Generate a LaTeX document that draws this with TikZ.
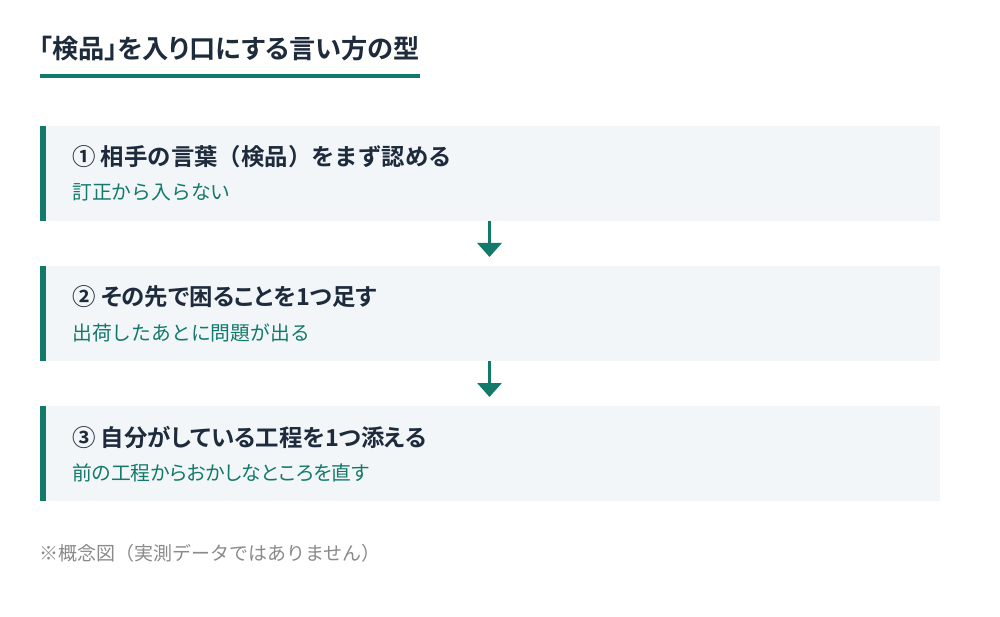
\documentclass[tikz,border=0pt]{standalone}
\usepackage{fontspec}
\setmainfont{Noto Sans CJK JP}[BoldFont={* Bold}]
\usetikzlibrary{arrows.meta}
\definecolor{teal}{HTML}{13796B}
\definecolor{navy}{HTML}{1E2B3C}
\definecolor{boxbg}{HTML}{F2F6F9}
\definecolor{note}{HTML}{8A8A8A}
\newcommand{\prop}{\addfontfeature{RawFeature=+palt}}
\tikzset{
  stepbox/.style={rectangle, fill=boxbg, draw=none, minimum width=900pt, minimum height=95pt, anchor=north west, inner sep=0pt},
  bar/.style={fill=teal, draw=none},
  head/.style={anchor=west, inner sep=0pt, text=navy, font=\fontsize{23.4pt}{27pt}\selectfont\bfseries},
  sub/.style={anchor=west, inner sep=0pt, text=teal, font=\fontsize{19.8pt}{23pt}\selectfont},
  arr/.style={draw=teal, line width=3pt, -{Triangle[width=24pt,length=14pt]}, shorten >=9pt},
}
\begin{document}
\begin{tikzpicture}[x=1pt,y=-1pt]
\useasboundingbox (0,0) rectangle (1000,617);
\fill[white] (0,0) rectangle (1000,617);
% title
\node[anchor=west, inner sep=0pt, text=navy, font=\fontsize{26.2pt}{30pt}\selectfont\bfseries\prop] (title) at (39,49) {「検品」を入り口にする言い方の型};
\fill[teal] (40,74) rectangle (420,78);
% boxes
\node[stepbox] (b1) at (40,126) {};
\node[stepbox] (b2) at (40,266) {};
\node[stepbox] (b3) at (40,406) {};
\fill[bar] (40,126) rectangle (46,221);
\fill[bar] (40,266) rectangle (46,361);
\fill[bar] (40,406) rectangle (46,501);
% texts
\node[head] (h1) at (72,157) {① 相手の言葉（検品）をまず認める};
\node[sub] (s1) at (72,192.5) {訂正から入らない};
\node[head] (h2) at (72,297) {② {\prop その先で困ることを1つ足す}};
\node[sub] (s2) at (72,332.5) {出荷したあとに問題が出る};
\node[head] (h3) at (72,437) {③ {\prop 自分がしている工程を1つ添える}};
\node[sub] (s3) at (72,472.5) {{\prop 前の工程からおかしなところを直す}};
% arrows
\coordinate (ax) at (489.5,0);
\draw[arr] (b1.south -| ax) -- (b2.north -| ax);
\draw[arr] (b2.south -| ax) -- (b3.north -| ax);
% note
\node[anchor=west, inner sep=0pt, text=note, font=\fontsize{19pt}{22pt}\selectfont] (note) at (39,553) {※概念図（実測データではありません）};
\end{tikzpicture}
\end{document}
